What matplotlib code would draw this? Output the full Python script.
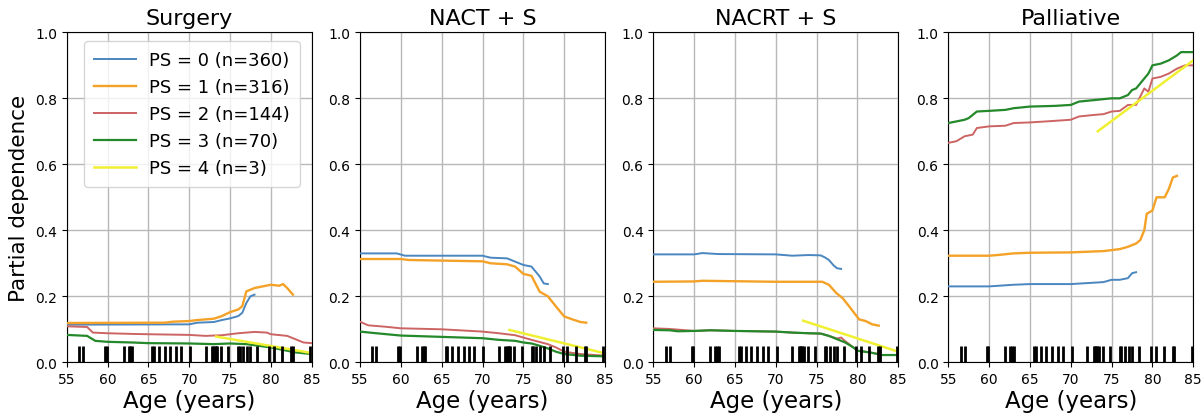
import numpy as np
import matplotlib
matplotlib.use("Agg")
import matplotlib.pyplot as plt

# Treatment groups (one panel each)
treatments = ["Surgery", "NACT + S", "NACRT + S", "Palliative"]

# Performance-status groups
ps_labels = ["PS = 0 (n=360)", "PS = 1 (n=316)", "PS = 2 (n=144)",
             "PS = 3 (n=70)", "PS = 4 (n=3)"]
ps_colors = ["#4a86bf", "#f4a227", "#cd6464", "#24892a", "#f0f032"]
ps_widths = [1.4, 1.7, 1.4, 1.6, 1.8]

# Observed ages (rug)
rug_ages = [56.5, 57.0, 59.7, 59.9, 62.0, 62.6, 62.8, 63.0, 65.5, 65.7,
            66.3, 67.0, 67.7, 68.4, 69.0, 70.1, 72.0, 72.8, 72.95, 73.1,
            73.25, 73.4, 73.9, 74.8, 76.0, 76.2, 76.6, 77.1, 77.5, 78.3,
            79.8, 80.4, 81.4, 82.5, 82.7, 84.8]

# ---- Surgery ----
surg_age_0 = [55, 70, 71, 73, 74, 75, 76, 76.5, 77, 77.5, 78]
surg_pd_0 = [0.114, 0.115, 0.12, 0.122, 0.128, 0.133, 0.14, 0.15, 0.18, 0.2, 0.205]
surg_age_1 = [55, 67, 68, 70, 71, 73, 74, 75, 76, 76.5, 77, 78, 79, 80, 81, 81.5, 82, 82.7]
surg_pd_1 = [0.119, 0.12, 0.123, 0.125, 0.128, 0.132, 0.14, 0.152, 0.16, 0.17,
             0.215, 0.225, 0.23, 0.235, 0.232, 0.237, 0.225, 0.205]
surg_age_2 = [55, 57.5, 58.2, 60, 63, 65, 70, 72, 74, 76, 78, 79.5, 80, 82, 83, 84, 85]
surg_pd_2 = [0.109, 0.107, 0.09, 0.088, 0.086, 0.085, 0.083, 0.08, 0.082, 0.088,
             0.092, 0.09, 0.085, 0.08, 0.07, 0.06, 0.058]
surg_age_3 = [55, 57.5, 58.5, 60, 63, 65, 70, 73, 75, 77, 80, 82, 83, 85]
surg_pd_3 = [0.083, 0.08, 0.065, 0.062, 0.06, 0.058, 0.057, 0.055, 0.057, 0.055,
             0.045, 0.035, 0.03, 0.025]
surg_age_4 = [73.3, 85]
surg_pd_4 = [0.078, 0.028]

# ---- NACT + S ----
nact_age_0 = [55, 59.5, 60.5, 70, 71, 73, 74, 75, 76, 76.5, 77, 77.5, 78]
nact_pd_0 = [0.33, 0.33, 0.323, 0.323, 0.317, 0.315, 0.305, 0.295, 0.29, 0.275,
             0.26, 0.239, 0.237]
nact_age_1 = [55, 60, 61, 70, 71, 73, 74, 75, 76, 77, 78, 79, 80, 81, 82, 82.7]
nact_pd_1 = [0.313, 0.313, 0.31, 0.306, 0.3, 0.297, 0.29, 0.268, 0.262, 0.214,
             0.2, 0.169, 0.139, 0.13, 0.122, 0.12]
nact_age_2 = [55, 56, 58, 60, 65, 70, 72, 74, 76, 78, 79, 80, 82, 85]
nact_pd_2 = [0.123, 0.112, 0.108, 0.103, 0.1, 0.093, 0.088, 0.082, 0.068, 0.055,
             0.045, 0.032, 0.025, 0.02]
nact_age_3 = [55, 57, 60, 65, 70, 72, 74, 75, 76, 77, 78, 79, 80, 82, 85]
nact_pd_3 = [0.093, 0.088, 0.081, 0.077, 0.073, 0.068, 0.065, 0.06, 0.057, 0.05,
             0.042, 0.032, 0.025, 0.02, 0.018]
nact_age_4 = [73.3, 85]
nact_pd_4 = [0.098, 0.027]

# ---- NACRT + S ----
nacrt_age_0 = [55, 60, 61, 63, 70, 72, 74, 75.5, 76, 76.5, 77.1, 77.5, 78]
nacrt_pd_0 = [0.327, 0.327, 0.331, 0.328, 0.327, 0.323, 0.325, 0.324, 0.318, 0.31,
              0.293, 0.285, 0.283]
nacrt_age_1 = [55, 60, 61, 70, 75.7, 76.5, 77.4, 78.2, 79.0, 79.8, 80.2, 81.0, 81.8, 82.6]
nacrt_pd_1 = [0.244, 0.245, 0.247, 0.244, 0.244, 0.235, 0.21, 0.194, 0.169, 0.143,
              0.13, 0.125, 0.115, 0.111]
nacrt_age_2 = [55, 57, 60, 62, 65, 70, 72, 74, 75.5, 76.5, 77.5, 78, 78.5, 79.5,
               80, 81.5, 82.5, 83, 85]
nacrt_pd_2 = [0.103, 0.101, 0.095, 0.097, 0.095, 0.093, 0.09, 0.088, 0.087, 0.08,
              0.072, 0.075, 0.064, 0.045, 0.035, 0.03, 0.025, 0.022, 0.022]
nacrt_age_3 = [55, 57, 58, 60, 62, 65, 70, 72, 74, 75.5, 76.5, 77.5, 78.5, 79.5,
               80, 81.5, 82.5, 83, 85]
nacrt_pd_3 = [0.098, 0.097, 0.094, 0.095, 0.097, 0.095, 0.093, 0.09, 0.088, 0.087,
              0.08, 0.07, 0.06, 0.045, 0.035, 0.03, 0.025, 0.022, 0.022]
nacrt_age_4 = [73.35, 85]
nacrt_pd_4 = [0.126, 0.032]

# ---- Palliative ----
pall_age_0 = [55, 60, 63, 65, 70, 72, 74, 75, 76, 77, 77.5, 78]
pall_pd_0 = [0.23, 0.23, 0.235, 0.237, 0.237, 0.24, 0.243, 0.25, 0.25, 0.255,
             0.27, 0.273]
pall_age_1 = [55, 60, 61, 63, 65, 70, 72, 74, 75, 76, 77, 78, 78.5, 79, 79.3, 80,
              80.5, 81.5, 82, 82.5, 83]
pall_pd_1 = [0.323, 0.323, 0.325, 0.33, 0.332, 0.333, 0.335, 0.337, 0.34, 0.343,
             0.35, 0.36, 0.37, 0.4, 0.45, 0.46, 0.5, 0.5, 0.525, 0.56, 0.565]
pall_age_2 = [55, 56, 57, 58, 58.5, 60, 62, 63, 65, 67, 70, 71, 73, 74, 75, 76,
              77, 78, 79, 79.5, 80, 81, 82, 83, 84, 85]
pall_pd_2 = [0.665, 0.67, 0.685, 0.69, 0.71, 0.715, 0.717, 0.725, 0.727, 0.73,
             0.735, 0.745, 0.75, 0.752, 0.76, 0.762, 0.78, 0.78, 0.83, 0.82, 0.86,
             0.865, 0.875, 0.89, 0.9, 0.9]
pall_age_3 = [55, 57, 57.5, 58, 58.5, 60, 62, 63, 65, 68, 70, 71, 73, 75, 76, 77,
              77.5, 78, 79, 79.5, 80, 81, 82, 83, 83.5, 85]
pall_pd_3 = [0.725, 0.735, 0.74, 0.75, 0.76, 0.762, 0.765, 0.77, 0.775, 0.777,
             0.78, 0.79, 0.795, 0.8, 0.8, 0.81, 0.825, 0.83, 0.86, 0.875, 0.9,
             0.905, 0.915, 0.93, 0.94, 0.94]
pall_age_4 = [73.3, 85]
pall_pd_4 = [0.70, 0.915]

curves = {
    "Surgery": [(surg_age_0, surg_pd_0), (surg_age_1, surg_pd_1), (surg_age_2, surg_pd_2),
                (surg_age_3, surg_pd_3), (surg_age_4, surg_pd_4)],
    "NACT + S": [(nact_age_0, nact_pd_0), (nact_age_1, nact_pd_1), (nact_age_2, nact_pd_2),
                 (nact_age_3, nact_pd_3), (nact_age_4, nact_pd_4)],
    "NACRT + S": [(nacrt_age_0, nacrt_pd_0), (nacrt_age_1, nacrt_pd_1),
                  (nacrt_age_2, nacrt_pd_2), (nacrt_age_3, nacrt_pd_3),
                  (nacrt_age_4, nacrt_pd_4)],
    "Palliative": [(pall_age_0, pall_pd_0), (pall_age_1, pall_pd_1), (pall_age_2, pall_pd_2),
                   (pall_age_3, pall_pd_3), (pall_age_4, pall_pd_4)],
}

fig = plt.figure(figsize=(12.04, 4.14), dpi=100)
lefts = [0.0554, 0.299, 0.5426, 0.7876]
width, bottom, height = 0.2035, 0.1225, 0.797

for i, name in enumerate(treatments):
    ax = fig.add_axes([lefts[i], bottom, width, height])
    for (ages, vals), lab, col, lw in zip(curves[name], ps_labels, ps_colors, ps_widths):
        ax.plot(ages, vals, color=col, lw=lw, label=lab, zorder=3)
    ax.vlines(rug_ages, 0, 0.05, colors="black", lw=2.0, zorder=4)
    ax.set_xlim(55, 85)
    ax.set_ylim(0, 1)
    ax.set_xticks(np.arange(55, 86, 5))
    ax.set_yticks(np.arange(0, 1.01, 0.2))
    ax.grid(True, color="#b8b8b8", lw=1.0, zorder=0)
    ax.tick_params(labelsize=10)
    ax.set_title(name, fontsize=16)
    ax.set_xlabel("Age (years)", fontsize=16.5, labelpad=2)
    if i == 0:
        ax.set_ylabel("Partial dependence", fontsize=15.5)
        ax.legend(loc="upper left", bbox_to_anchor=(0.072, 0.974),
                  borderaxespad=0, fontsize=13, handlelength=2.3,
                  labelspacing=0.5, handletextpad=0.75, borderpad=0.55)

fig.savefig("out.png", dpi=100)
